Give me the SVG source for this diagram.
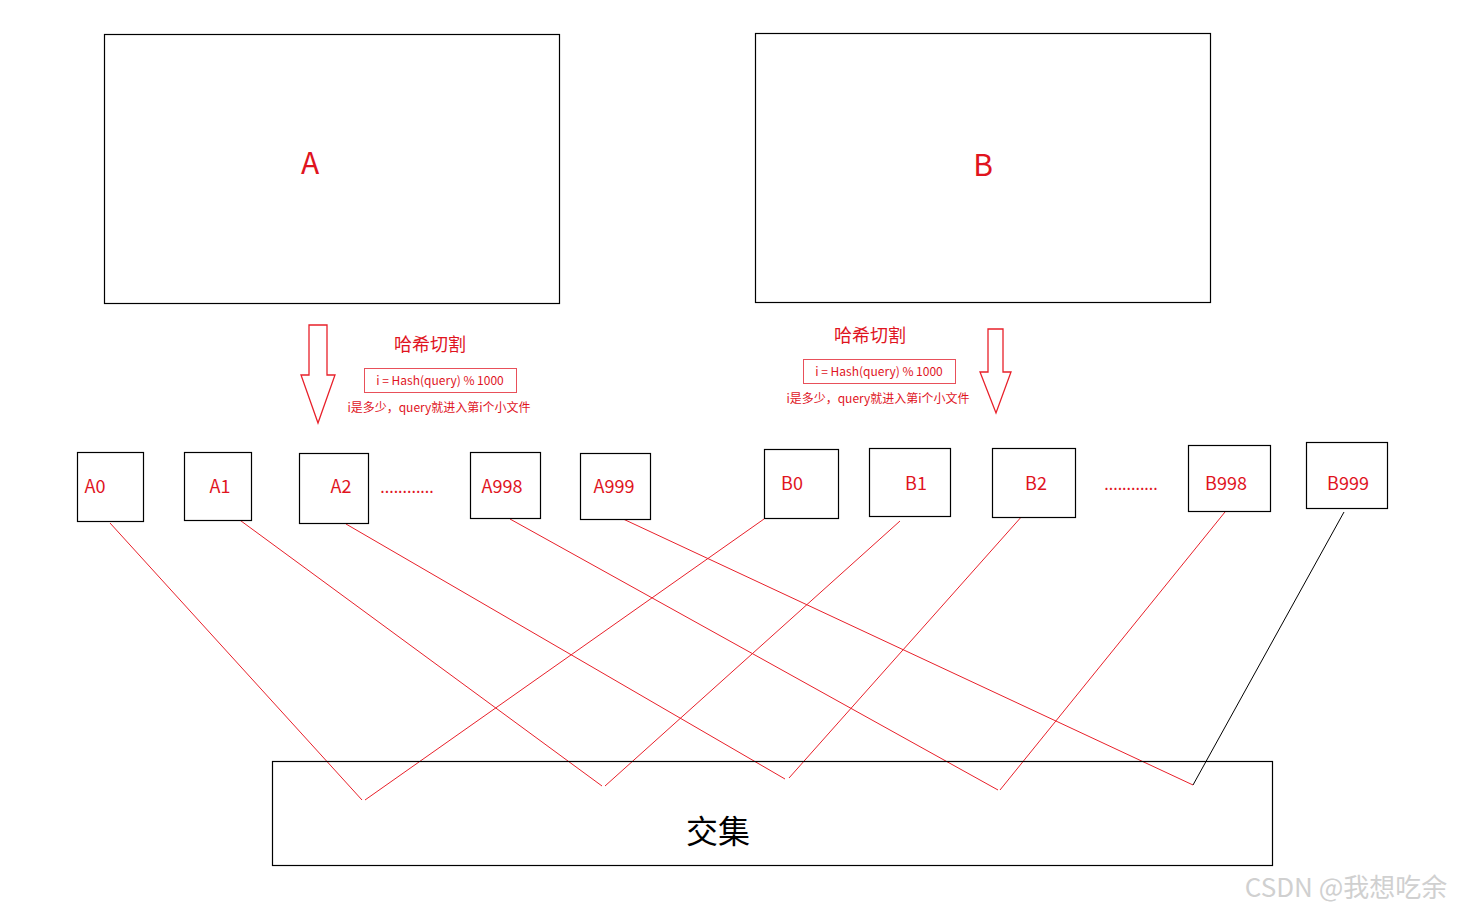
<svg xmlns="http://www.w3.org/2000/svg" width="1461" height="914" viewBox="0 0 1461 914">
<style>
.b{fill:#fff;stroke:#000;stroke-width:1.2}
.t{font-family:"Microsoft YaHei","Noto Sans CJK SC",sans-serif;fill:#e0141e}
.r{stroke:#e8202a;stroke-width:1;fill:none}
.ar{fill:#fff;stroke:#e8202a;stroke-width:1.3}
</style>
<rect width="1461" height="914" fill="#fff"/>
<g id="A"><rect class="b" x="104.5" y="34.5" width="455" height="269"/><text class="t" x="310" y="174" font-size="30" text-anchor="middle">A</text></g>
<g id="B"><rect class="b" x="755.5" y="33.5" width="455" height="269"/><text class="t" x="983" y="176" font-size="30" text-anchor="middle">B</text></g>
<g id="hashA">
<polygon class="ar" points="309,325 327,325 327,375 335,375 318,423 301,375 309,375"/>
<text class="t" x="430" y="351" font-size="18" text-anchor="middle">哈希切割</text>
<rect x="364.5" y="368.5" width="152" height="24" fill="#fff" stroke="#e8505a"/>
<text class="t" x="440" y="385" font-size="12" text-anchor="middle">i = Hash(query) % 1000</text>
<text class="t" x="439" y="412" font-size="12" text-anchor="middle">i是多少，query就进入第i个小文件</text>
</g>
<g id="hashB">
<polygon class="ar" points="988,329 1003,329 1003,372 1011,372 996,413 980,372 988,372"/>
<text class="t" x="870" y="342" font-size="18" text-anchor="middle">哈希切割</text>
<rect x="803.5" y="359.5" width="152" height="24" fill="#fff" stroke="#e8505a"/>
<text class="t" x="879" y="376" font-size="12" text-anchor="middle">i = Hash(query) % 1000</text>
<text class="t" x="878" y="403" font-size="12" text-anchor="middle">i是多少，query就进入第i个小文件</text>
</g>
<g id="connectors">
<line class="r" x1="110" y1="523" x2="362" y2="800"/>
<line class="r" x1="237" y1="518" x2="602" y2="786"/>
<line class="r" x1="346" y1="524" x2="785" y2="779"/>
<line class="r" x1="510" y1="519" x2="998" y2="790"/>
<line class="r" x1="621" y1="518" x2="1193" y2="785"/>
<line class="r" x1="764" y1="519" x2="365" y2="800"/>
<line class="r" x1="900" y1="521" x2="605" y2="786"/>
<line class="r" x1="1023" y1="515" x2="789" y2="778"/>
<line class="r" x1="1225" y1="512" x2="1000" y2="790"/>
<line x1="1344" y1="512" x2="1193" y2="785" stroke="#000" stroke-width="1"/>
</g>
<g id="A0"><rect class="b" x="77.5" y="452.5" width="66" height="69"/><text class="t" x="95" y="493" font-size="18" text-anchor="middle">A0</text></g>
<g id="A1"><rect class="b" x="184.5" y="452.5" width="67" height="68"/><text class="t" x="220" y="493" font-size="18" text-anchor="middle">A1</text></g>
<g id="A2"><rect class="b" x="299.5" y="453.5" width="69" height="70"/><text class="t" x="341" y="493" font-size="18" text-anchor="middle">A2</text></g>
<text class="t" x="407" y="493" font-size="16" text-anchor="middle">............</text>
<g id="A998"><rect class="b" x="470.5" y="452.5" width="70" height="66"/><text class="t" x="502" y="493" font-size="18" text-anchor="middle">A998</text></g>
<g id="A999"><rect class="b" x="580.5" y="453.5" width="70" height="66"/><text class="t" x="614" y="493" font-size="18" text-anchor="middle">A999</text></g>
<g id="B0"><rect class="b" x="764.5" y="449.5" width="74" height="69"/><text class="t" x="792" y="490" font-size="18" text-anchor="middle">B0</text></g>
<g id="B1"><rect class="b" x="869.5" y="448.5" width="81" height="68"/><text class="t" x="916" y="490" font-size="18" text-anchor="middle">B1</text></g>
<g id="B2"><rect class="b" x="992.5" y="448.5" width="83" height="69"/><text class="t" x="1036" y="490" font-size="18" text-anchor="middle">B2</text></g>
<text class="t" x="1131" y="490" font-size="16" text-anchor="middle">............</text>
<g id="B998"><rect class="b" x="1188.5" y="445.5" width="82" height="66"/><text class="t" x="1226" y="490" font-size="18" text-anchor="middle">B998</text></g>
<g id="B999"><rect class="b" x="1306.5" y="442.5" width="81" height="66"/><text class="t" x="1348" y="490" font-size="18" text-anchor="middle">B999</text></g>
<g id="jiaoji"><rect x="272.5" y="761.5" width="1000" height="104" fill="none" stroke="#000" stroke-width="1.2"/><text x="718" y="843" font-size="32" text-anchor="middle" font-family="Microsoft YaHei,Noto Sans CJK SC,sans-serif" fill="#000">交集</text></g>
<text x="1346" y="897" font-size="26" text-anchor="middle" font-family="Noto Sans CJK SC,sans-serif" fill="#d0d0d0">CSDN @我想吃余</text>
</svg>
